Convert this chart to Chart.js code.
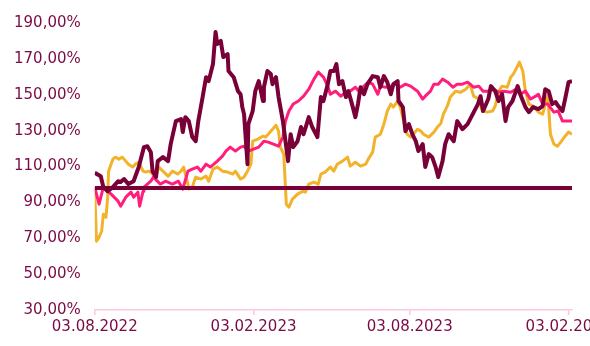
<!DOCTYPE html>
<html>
<head>
<meta charset="utf-8">
<script src="https://cdn.jsdelivr.net/npm/chart.js@4.4.1/dist/chart.umd.min.js"></script>
<style>
    html, body { margin: 0; padding: 0; background: #fff; overflow: hidden; }
    #wrap { width: 590px; height: 346px; overflow: hidden; }
    #box { width: 620px; height: 346px; position: relative; }
</style>
</head>
<body>
<div id="wrap"><div id="box"><canvas id="perfChart"></canvas></div></div>
<script>
// days since 03.08.2022
const xTickDays = [0, 184, 365, 549];
const xTickLabels = ['03.08.2022', '03.02.2023', '03.08.2023', '03.02.2024'];

const maroonDays = [0, 7, 10, 15, 21, 27, 30, 34, 39, 45, 51, 57, 61, 65, 67, 71, 73, 79, 85, 88, 94, 100, 102, 105, 109, 113, 117, 120, 125, 129, 132, 137, 140, 142, 146, 149, 154, 155, 161, 166, 169, 171, 173, 177, 178, 183, 186, 190, 195, 196, 200, 204, 206, 210, 213, 218, 224, 227, 230, 235, 239, 242, 248, 252, 258, 262, 265, 270, 273, 277, 280, 283, 287, 291, 294, 299, 302, 305, 308, 312, 316, 322, 328, 331, 335, 339, 343, 346, 351, 352, 357, 360, 364, 368, 372, 375, 380, 383, 387, 391, 395, 398, 403, 406, 410, 416, 420, 426, 432, 438, 444, 447, 450, 456, 459, 464, 468, 472, 476, 479, 484, 490, 493, 499, 503, 508, 514, 519, 522, 526, 530, 534, 537, 542, 545, 549, 553];
const maroonValues = [106.5, 104.6, 98.5, 96.2, 98.5, 101.8, 101.3, 103, 100.2, 101.8, 109.7, 120.8, 121.3, 118, 107.4, 104.1, 113, 115.2, 113, 122.5, 135.3, 136.4, 129.2, 137.5, 135.3, 126.4, 124.1, 135.3, 148.7, 159.8, 157.6, 167.1, 185, 178.3, 180, 171, 172.7, 163.2, 159.8, 152, 150.3, 143.1, 139.2, 111.3, 133.6, 140.9, 152, 157.6, 146.5, 154.2, 163.2, 161.5, 155.9, 159.8, 148.7, 135.3, 113, 128, 120.8, 124.1, 132, 128, 137.5, 132, 126.4, 148.7, 146.5, 155.9, 163.2, 163.2, 167.1, 155.9, 157.6, 148.7, 152, 143.1, 137.5, 144.8, 154.2, 150.3, 155.9, 160.4, 159.8, 154.2, 160.4, 157, 150.3, 155.9, 157.6, 146.5, 143.1, 129.7, 133.6, 128, 124.1, 118.6, 122.5, 109.7, 116.9, 115.2, 109.7, 104.1, 113, 122.5, 128, 124.1, 135.3, 130.8, 133.6, 139.2, 144.8, 149.2, 140.9, 147.6, 154.8, 152, 146.5, 150.3, 135.3, 143.1, 146.5, 154.8, 150.3, 143.1, 140.3, 143.1, 142, 143.7, 153.1, 152, 144.8, 145.9, 143.7, 140.9, 147.6, 157, 157.6];

const pinkDays = [0, 5, 10, 19, 27, 30, 36, 42, 45, 50, 52, 56, 57, 65, 68, 76, 82, 90, 97, 102, 108, 113, 119, 123, 129, 134, 138, 142, 148, 152, 157, 163, 169, 173, 178, 184, 190, 196, 201, 207, 213, 218, 221, 225, 230, 236, 242, 248, 254, 259, 265, 270, 273, 279, 285, 291, 296, 302, 306, 312, 317, 322, 328, 331, 337, 343, 349, 354, 360, 366, 374, 380, 383, 389, 393, 398, 403, 409, 415, 420, 426, 432, 439, 445, 450, 456, 462, 468, 474, 482, 488, 493, 499, 505, 511, 514, 519, 525, 532, 537, 542, 548, 553];
const pinkValues = [98.5, 89, 98.5, 94.6, 90.7, 87.9, 92.9, 95.7, 92.9, 95.7, 87.9, 96.2, 98.5, 101.8, 104.1, 100.2, 101.8, 100.2, 101.8, 97.4, 107.4, 108.5, 109.7, 107.4, 111.3, 109.7, 111.3, 113, 115.8, 118.6, 120.8, 118.6, 120.8, 121.3, 118.6, 119.7, 120.8, 124.1, 123.6, 122.5, 121.3, 126.4, 135.3, 140.9, 144.8, 146.5, 149.2, 153.1, 158.7, 162.6, 159.8, 154.8, 150.3, 152, 149.2, 151.4, 152, 154.2, 152, 154.8, 157, 155.9, 150.3, 154.8, 154.2, 154.8, 155.9, 154.2, 155.9, 154.8, 152, 147.6, 149.2, 152, 155.9, 155.9, 158.7, 157, 154.2, 155.9, 155.9, 157, 154.2, 154.8, 152, 152, 153.1, 151.4, 152, 151.4, 153.1, 150.3, 152, 147.6, 149.2, 150.3, 144.8, 144.8, 140.3, 140.9, 135.3, 135.3, 135.3];

const yellowDays = [0, 2, 5, 8, 10, 13, 15, 16, 21, 24, 28, 32, 36, 39, 44, 47, 51, 56, 59, 63, 67, 71, 74, 79, 85, 90, 96, 100, 103, 108, 109, 113, 117, 123, 129, 132, 137, 142, 148, 154, 160, 163, 169, 173, 177, 181, 183, 189, 195, 198, 201, 206, 210, 213, 215, 219, 222, 225, 229, 235, 241, 244, 248, 254, 259, 262, 267, 273, 277, 281, 287, 293, 296, 302, 308, 314, 317, 322, 325, 331, 335, 339, 343, 346, 351, 354, 358, 362, 366, 369, 374, 378, 381, 387, 393, 397, 401, 404, 409, 412, 418, 424, 430, 435, 439, 445, 449, 455, 461, 464, 468, 472, 478, 482, 485, 490, 492, 496, 499, 503, 508, 514, 519, 522, 525, 528, 532, 536, 540, 545, 549, 553];
const yellowValues = [97, 68.3, 70.6, 73.9, 83.4, 81.7, 92.9, 107.4, 114.1, 115.2, 114.1, 115.2, 113, 111.3, 109.7, 111.3, 112.4, 107.4, 106.9, 107.4, 105.8, 104.1, 109.7, 107.4, 104.6, 107.4, 105.8, 107.4, 109.7, 100.2, 97.4, 98.5, 104.1, 103, 104.6, 101.8, 108.5, 109.7, 107.4, 106.9, 105.8, 107.4, 103, 104.1, 107.4, 111.3, 124.1, 125.3, 126.9, 126.4, 128, 130.8, 133, 129.7, 120.8, 116.9, 89, 87.3, 91.8, 94.6, 96.2, 95.7, 100.2, 101.3, 100.2, 105.8, 106.9, 109.7, 107.4, 111.3, 113, 115.2, 110.2, 112.4, 110.2, 111.3, 114.1, 118, 126.4, 128, 133.6, 140.9, 144.8, 143.1, 146.5, 143.1, 135.3, 128, 126.4, 128, 130.8, 129.7, 128, 126.4, 129.2, 132, 134, 139.2, 144.2, 148.7, 152, 151.4, 153.1, 155.9, 149.2, 147.6, 140.9, 140.3, 140.9, 143.7, 152, 154.8, 154.2, 159.8, 161.5, 166, 168.2, 163.2, 152, 144.8, 143.7, 140.3, 139.2, 144.8, 149.2, 128, 122.5, 121.3, 123.6, 126.9, 129.2, 128];

// reference line
const baseDays = [0, 553];
const baseValues = [98, 98];

const yMin = 30;
const yMax = 190;
const yStep = 20;

document.addEventListener('DOMContentLoaded', function() {
    function toPoints(days, values) {
        return days.map((d, i) => ({ x: d, y: values[i] }));
    }

    var labelColor = '#7a0a45';
    var ctx = document.getElementById('perfChart').getContext('2d');

    new Chart(ctx, {
        type: 'line',
        data: {
            datasets: [
                { data: toPoints(baseDays, baseValues), borderColor: '#7a0038', borderWidth: 4 },
                { data: toPoints(maroonDays, maroonValues), borderColor: '#7a0038', borderWidth: 4 },
                { data: toPoints(pinkDays, pinkValues), borderColor: '#ff1f7b', borderWidth: 3 },
                { data: toPoints(yellowDays, yellowValues), borderColor: '#f2b32b', borderWidth: 3 }
            ]
        },
        options: {
            responsive: true,
            maintainAspectRatio: false,
            animation: false,
            layout: {
                padding: { left: 0, right: 48, top: 17, bottom: 7 }
            },
            elements: {
                point: { radius: 0 },
                line: { tension: 0, borderJoinStyle: 'round', borderCapStyle: 'butt' }
            },
            plugins: {
                legend: { display: false },
                tooltip: { enabled: false }
            },
            scales: {
                x: {
                    type: 'linear',
                    min: 0,
                    max: 553,
                    afterBuildTicks: function(axis) {
                        axis.ticks = xTickDays.map(v => ({ value: v }));
                    },
                    ticks: {
                        autoSkip: false,
                        maxRotation: 0,
                        padding: 3,
                        color: labelColor,
                        font: { family: 'DejaVu Sans', size: 15 },
                        callback: function(value) {
                            var i = xTickDays.indexOf(value);
                            return i >= 0 ? xTickLabels[i] : '';
                        }
                    },
                    grid: {
                        drawOnChartArea: false,
                        drawTicks: true,
                        tickLength: 5,
                        color: '#ffc6e0',
                        lineWidth: 1.5
                    },
                    border: { display: true, color: '#ffc6e0', width: 1.5 }
                },
                y: {
                    min: yMin,
                    max: yMax,
                    ticks: {
                        stepSize: yStep,
                        padding: 14,
                        color: labelColor,
                        font: { family: 'DejaVu Sans', size: 15 },
                        callback: function(value) {
                            return value.toFixed(2).replace('.', ',') + '%';
                        }
                    },
                    grid: { display: false, drawTicks: false },
                    border: { display: false }
                }
            }
        }
    });
});
</script>
</body>
</html>
